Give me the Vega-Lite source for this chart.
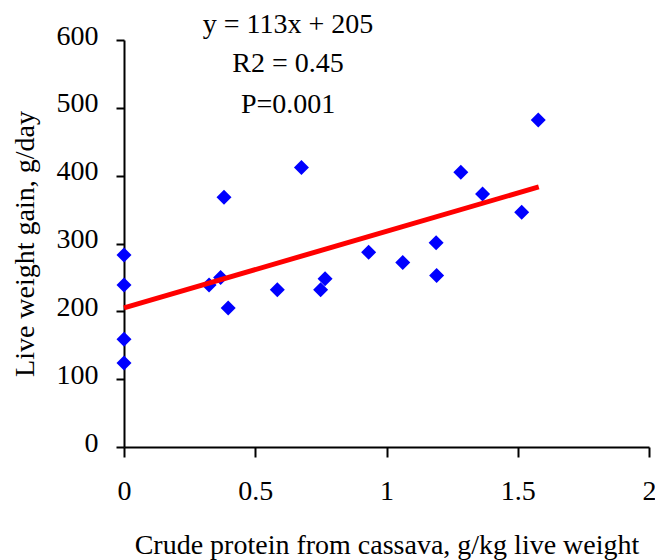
{
  "$schema": "https://vega.github.io/schema/vega-lite/v6.json",
  "width": 525,
  "height": 407,
  "autosize": {"type": "none"},
  "padding": {"left": 124, "top": 40, "right": 6, "bottom": 113},
  "background": "white",
  "config": {
    "view": {"stroke": null},
    "font": "Liberation Serif",
    "axis": {
      "grid": false,
      "domainColor": "black",
      "domainWidth": 2,
      "tickColor": "black",
      "tickWidth": 2,
      "labelFont": "Liberation Serif",
      "titleFont": "Liberation Serif",
      "labelFontSize": 28,
      "titleFontSize": 28,
      "titleFontWeight": "normal",
      "labelColor": "black",
      "titleColor": "black"
    }
  },
  "datasets": {
    "points": [
      {"x": 0, "y": 283}, {"x": 0, "y": 239}, {"x": 0, "y": 159}, {"x": 0, "y": 124},
      {"x": 0.324, "y": 239}, {"x": 0.368, "y": 250}, {"x": 0.381, "y": 368}, {"x": 0.397, "y": 205},
      {"x": 0.584, "y": 232}, {"x": 0.676, "y": 412}, {"x": 0.749, "y": 232}, {"x": 0.766, "y": 248},
      {"x": 0.932, "y": 287}, {"x": 1.062, "y": 272}, {"x": 1.189, "y": 301}, {"x": 1.191, "y": 253},
      {"x": 1.283, "y": 405}, {"x": 1.366, "y": 373}, {"x": 1.515, "y": 346}, {"x": 1.578, "y": 482}
    ],
    "fit": [{"x": 0, "y": 205}, {"x": 1.58, "y": 383.5}],
    "labels": [
      {"x": 0.625, "y": 622, "text": "y = 113x + 205"},
      {"x": 0.625, "y": 565, "text": "R2 = 0.45"},
      {"x": 0.625, "y": 504, "text": "P=0.001"}
    ]
  },
  "layer": [
    {
      "data": {"name": "points"},
      "mark": {"type": "point", "shape": "diamond", "filled": true, "size": 225, "color": "#0000FF", "opacity": 1},
      "encoding": {
        "x": {
          "field": "x", "type": "quantitative",
          "scale": {"domain": [0, 2], "nice": false, "zero": false},
          "axis": {
            "title": "Crude protein from cassava, g/kg live weight",
            "values": [0, 0.5, 1, 1.5, 2],
            "format": "~g",
            "tickSize": 10,
            "labelPadding": 20,
            "titlePadding": 26,
            "labelFlush": false
          }
        },
        "y": {
          "field": "y", "type": "quantitative",
          "scale": {"domain": [0, 600], "nice": false},
          "axis": {
            "title": "Live weight gain, g/day",
            "values": [0, 100, 200, 300, 400, 500, 600],
            "tickSize": 8,
            "labelPadding": 18,
            "labelOffset": -4,
            "titlePadding": 17
          }
        }
      }
    },
    {
      "data": {"name": "fit"},
      "mark": {"type": "line", "color": "#FF0000", "strokeWidth": 5},
      "encoding": {
        "x": {"field": "x", "type": "quantitative"},
        "y": {"field": "y", "type": "quantitative"}
      }
    },
    {
      "data": {"name": "labels"},
      "mark": {"type": "text", "font": "Liberation Serif", "fontSize": 28, "align": "center", "baseline": "middle", "color": "black"},
      "encoding": {
        "x": {"field": "x", "type": "quantitative"},
        "y": {"field": "y", "type": "quantitative"},
        "text": {"field": "text", "type": "nominal"}
      }
    }
  ]
}
